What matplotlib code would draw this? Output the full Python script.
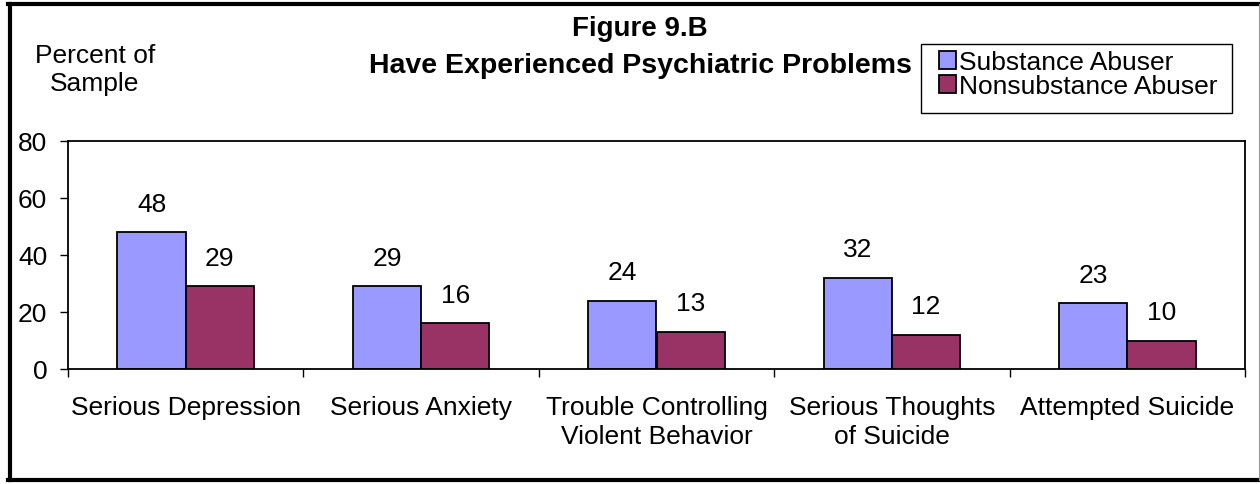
import matplotlib.pyplot as plt
import numpy as np
from matplotlib.lines import Line2D
from matplotlib.patches import Rectangle

plt.rcParams['font.family'] = ['Liberation Sans', 'DejaVu Sans']

# ---- data ----
categories = ['Serious Depression', 'Serious Anxiety',
              'Trouble Controlling\nViolent Behavior',
              'Serious Thoughts\nof Suicide', 'Attempted Suicide']
substance = [48, 29, 24, 32, 23]
nonsubstance = [29, 16, 13, 12, 10]
series_names = ['Substance Abuser', 'Nonsubstance Abuser']
y_ticks = [0, 20, 40, 60, 80]

blue = '#9999FF'
maroon = '#993366'
fs = 19

W, H = 1260, 485
fig = plt.figure(figsize=(W / 100, H / 100), dpi=100)
ax = fig.add_axes([68 / W, 1 - 370 / H, (1245 - 68) / W, (370 - 142) / H])

x = np.arange(len(categories))
bw = 0.29
ax.bar(x - bw / 2, substance, bw, color=blue, edgecolor='black', linewidth=1.3,
       label=series_names[0])
ax.bar(x + bw / 2, nonsubstance, bw, color=maroon, edgecolor='black', linewidth=1.3,
       label=series_names[1])

# value labels above the bars
for i in range(len(categories)):
    ax.annotate(str(substance[i]), (x[i] - bw / 2, substance[i]), xytext=(0, 12),
                textcoords='offset points', ha='center', va='bottom', fontsize=fs)
    ax.annotate(str(nonsubstance[i]), (x[i] + bw / 2, nonsubstance[i]), xytext=(0, 12),
                textcoords='offset points', ha='center', va='bottom', fontsize=fs)

ax.set_xlim(-0.5, len(categories) - 0.5)
ax.set_ylim(0, 80)
ax.set_yticks(y_ticks)
ax.tick_params(axis='y', labelsize=fs, length=6, width=1, direction='out', pad=9)

# boundary ticks, category labels in between
ax.set_xticks(np.arange(-0.5, len(categories), 1.0))
ax.set_xticklabels([])
ax.tick_params(axis='x', which='major', length=6, width=1, direction='out')
ax.set_xticks(x, minor=True)
ax.set_xticklabels(categories, minor=True, fontsize=fs, linespacing=1.25)
ax.tick_params(axis='x', which='minor', length=0, pad=19)

for s in ax.spines.values():
    s.set_linewidth(1.3)
    s.set_color('black')

# titles and axis caption
fig.text(640 / W, 1 - 29 / H, 'Figure 9.B', ha='center', va='center',
         fontsize=20, fontweight='bold')
fig.text(640 / W, 1 - 66 / H, 'Have Experienced Psychiatric Problems', ha='center',
         va='center', fontsize=20.5, fontweight='bold')
fig.text(95 / W, 1 - 70 / H, 'Percent of\nSample', ha='center', va='center',
         fontsize=fs, linespacing=1.25)

# legend: frame drawn separately
fig.add_artist(Rectangle((921 / W, 1 - 114 / H), (1232 - 921) / W, (114 - 45) / H,
                         transform=fig.transFigure, facecolor='white',
                         edgecolor='black', linewidth=1, zorder=1))
leg = fig.legend(loc='upper left', bbox_to_anchor=(939 / W, 1 - 51 / H),
                 fontsize=fs, frameon=False,
                 handlelength=0.65, handleheight=0.65, handletextpad=0.12,
                 borderpad=0, labelspacing=0.0, borderaxespad=0)
leg.set_zorder(2)

# outer frame of the picture
fig.add_artist(Line2D([9.5 / W, 9.5 / W], [4 / H, 1 - 5 / H], color='black', lw=3,
                      transform=fig.transFigure))
fig.add_artist(Line2D([8 / W, 1], [1 - 5 / H, 1 - 5 / H], color='black', lw=3,
                      transform=fig.transFigure))
fig.add_artist(Line2D([8 / W, 1], [4 / H, 4 / H], color='black', lw=3,
                      transform=fig.transFigure))
fig.add_artist(Line2D([1258.5 / W, 1258.5 / W], [4 / H, 1 - 5 / H], color='#999999',
                      lw=0.8, transform=fig.transFigure))

fig.savefig('out.png', dpi=100)
